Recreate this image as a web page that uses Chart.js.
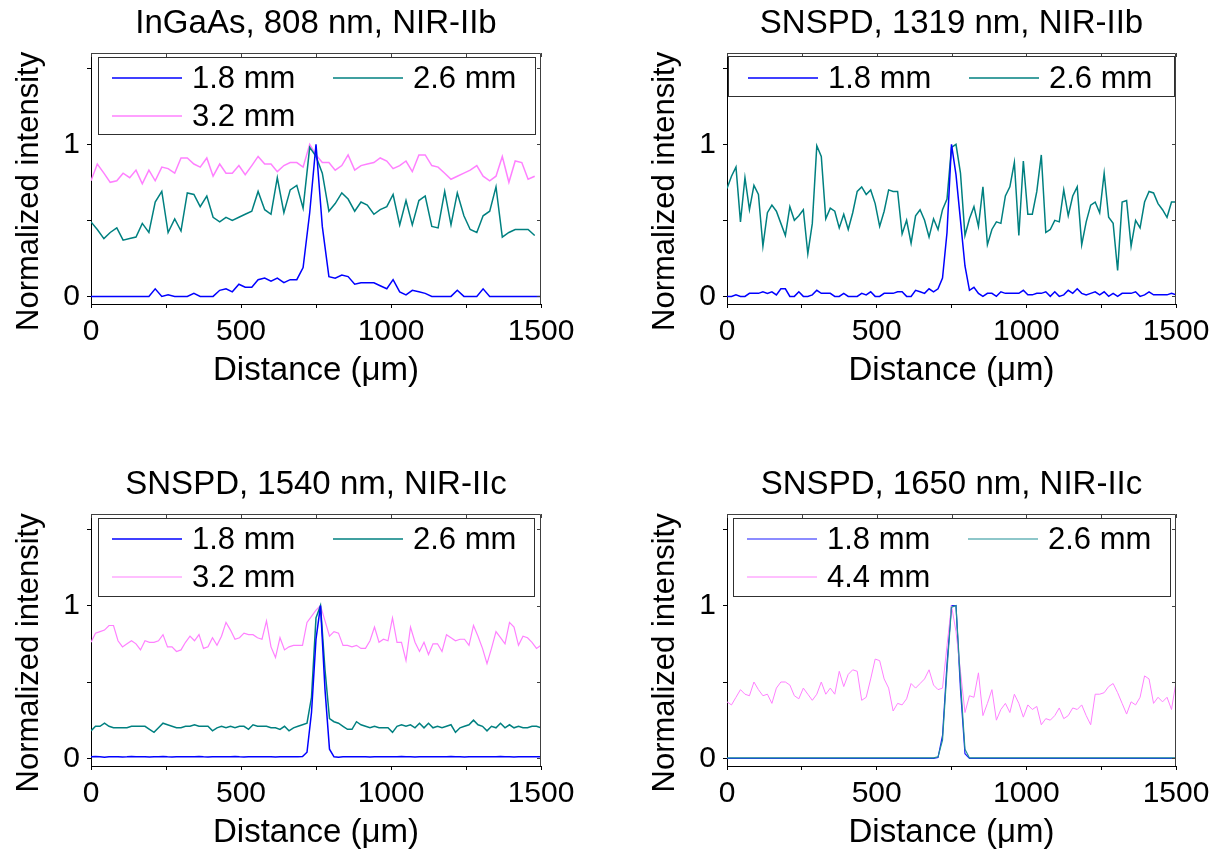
<!DOCTYPE html>
<html lang="en">
  <head>
    <meta charset="utf-8" />
    <title>Line profiles</title>
    <script src="https://cdn.jsdelivr.net/npm/chart.js"></script>
    <style>
      body { margin: 0; background: #fff; overflow: hidden; }
      .panel { position: absolute; }
    </style>
  </head>
  <body>
    <canvas id="c1" class="panel" width="612" height="394" style="left:0;top:0"></canvas>
    <canvas id="c2" class="panel" width="612" height="394" style="left:636px;top:0"></canvas>
    <canvas id="c3" class="panel" width="612" height="395" style="left:0;top:461px"></canvas>
    <canvas id="c4" class="panel" width="612" height="395" style="left:636px;top:461px"></canvas>

    <script>
      // axes
      var yTickValues = [0, 0.5, 1, 1.5];
      var yTickLabels = [0, 1];
      var xTickValues = [0, 250, 500, 750, 1000, 1250, 1500];
      var xTickLabels = [0, 500, 1000, 1500];

      var titles = [
        "InGaAs, 808 nm, NIR-IIb",
        "SNSPD, 1319 nm, NIR-IIb",
        "SNSPD, 1540 nm, NIR-IIc",
        "SNSPD, 1650 nm, NIR-IIc",
      ];

      // InGaAs profile positions (um)
      var xInGaAs = [0, 21, 43, 64, 86, 107, 129, 150, 171, 193,
        214, 236, 257, 279, 300, 321, 343, 364, 386, 407,
        429, 450, 471, 493, 514, 536, 557, 579, 600, 621,
        643, 664, 686, 707, 729, 750, 771, 793, 814, 836,
        857, 879, 900, 921, 943, 964, 986, 1007, 1029, 1050,
        1071, 1093, 1114, 1136, 1157, 1179, 1200, 1221, 1243, 1264,
        1286, 1307, 1329, 1350, 1371, 1393, 1414, 1436, 1457, 1479,
        1500];

      var ingaas18 = [0, 0, 0, 0, 0, 0, 0, 0, 0, 0,
        0.05, 0, 0.01, 0, 0, 0, 0.02, 0, 0, 0,
        0.04, 0.05, 0.03, 0.08, 0.06, 0.06, 0.11, 0.12, 0.10, 0.12,
        0.09, 0.11, 0.11, 0.19, 0.55, 1.00, 0.46, 0.13, 0.12, 0.14,
        0.13, 0.08, 0.09, 0.09, 0.09, 0.07, 0.05, 0.11, 0.03, 0.01,
        0.04, 0.03, 0.02, 0, 0, 0, 0, 0.04, 0, 0,
        0, 0.05, 0, 0, 0, 0, 0, 0, 0, 0,
        0];
      var ingaas26 = [0.49, 0.44, 0.38, 0.42, 0.45, 0.37, 0.38, 0.39, 0.48, 0.42,
        0.62, 0.69, 0.42, 0.51, 0.43, 0.68, 0.67, 0.59, 0.66, 0.52,
        0.49, 0.52, 0.50, 0.52, 0.54, 0.56, 0.69, 0.57, 0.54, 0.78,
        0.55, 0.70, 0.73, 0.58, 0.98, 0.92, 0.81, 0.56, 0.61, 0.68,
        0.64, 0.56, 0.62, 0.60, 0.54, 0.57, 0.59, 0.67, 0.47, 0.63,
        0.47, 0.63, 0.66, 0.46, 0.45, 0.69, 0.47, 0.68, 0.53, 0.44,
        0.42, 0.53, 0.56, 0.72, 0.39, 0.42, 0.44, 0.44, 0.44, 0.40];
      var ingaas32 = [0.76, 0.87, 0.81, 0.75, 0.76, 0.81, 0.78, 0.83, 0.74, 0.83,
        0.76, 0.85, 0.84, 0.81, 0.91, 0.91, 0.87, 0.85, 0.91, 0.79,
        0.87, 0.81, 0.81, 0.86, 0.80, 0.86, 0.92, 0.87, 0.87, 0.82,
        0.86, 0.88, 0.88, 0.85, 1.00, 0.93, 0.88, 0.88, 0.83, 0.86,
        0.93, 0.83, 0.86, 0.87, 0.88, 0.91, 0.89, 0.84, 0.86, 0.89,
        0.82, 0.93, 0.93, 0.86, 0.85, 0.81, 0.77, 0.79, 0.81, 0.83,
        0.86, 0.79, 0.76, 0.79, 0.92, 0.75, 0.89, 0.88, 0.77, 0.79];

      // SNSPD profile positions (um)
      var xSnspd = [0, 15, 30, 45, 60, 75, 90, 105, 120, 135,
        150, 165, 180, 195, 210, 225, 240, 255, 270, 285,
        300, 315, 330, 345, 360, 375, 390, 405, 420, 435,
        450, 465, 480, 495, 510, 525, 540, 555, 570, 585,
        600, 615, 630, 645, 660, 675, 690, 705, 720, 735,
        750, 765, 780, 795, 810, 825, 840, 855, 870, 885,
        900, 915, 930, 945, 960, 975, 990, 1005, 1020, 1035,
        1050, 1065, 1080, 1095, 1110, 1125, 1140, 1155, 1170, 1185,
        1200, 1215, 1230, 1245, 1260, 1275, 1290, 1305, 1320, 1335,
        1350, 1365, 1380, 1395, 1410, 1425, 1440, 1455, 1470, 1485,
        1500];

      var s1319_18 = [0.00, 0.00, 0.01, 0.00, 0.00, 0.02, 0.02, 0.02, 0.03, 0.02,
        0.03, 0.01, 0.05, 0.05, 0.00, 0.00, 0.03, 0.00, 0.00, 0.01,
        0.04, 0.02, 0.02, 0.02, 0.00, 0.00, 0.02, 0.00, 0.00, 0.00,
        0.02, 0.01, 0.03, 0.00, 0.00, 0.02, 0.02, 0.02, 0.03, 0.03,
        0.00, 0.00, 0.04, 0.03, 0.02, 0.05, 0.03, 0.05, 0.12, 0.42,
        1.00, 0.80, 0.50, 0.20, 0.04, 0.06, 0.02, 0.00, 0.02, 0.02,
        0.00, 0.03, 0.02, 0.02, 0.02, 0.02, 0.04, 0.01, 0.01, 0.02,
        0.02, 0.03, 0.00, 0.03, 0.00, 0.01, 0.04, 0.02, 0.05, 0.02,
        0.01, 0.02, 0.03, 0.01, 0.03, 0.00, 0.02, 0.00, 0.02, 0.02,
        0.02, 0.03, 0.00, 0.01, 0.03, 0.01, 0.01, 0.01, 0.01, 0.02,
        0.01];
      var s1319_26 = [0.71, 0.79, 0.85, 0.49, 0.78, 0.57, 0.73, 0.67, 0.33, 0.55,
        0.60, 0.56, 0.48, 0.40, 0.59, 0.50, 0.53, 0.57, 0.28, 0.48,
        0.99, 0.92, 0.51, 0.58, 0.56, 0.45, 0.54, 0.44, 0.55, 0.69,
        0.72, 0.67, 0.70, 0.61, 0.46, 0.56, 0.70, 0.69, 0.69, 0.41,
        0.50, 0.35, 0.53, 0.57, 0.50, 0.39, 0.51, 0.44, 0.57, 0.64,
        0.98, 1.00, 0.81, 0.40, 0.51, 0.59, 0.46, 0.72, 0.34, 0.44,
        0.49, 0.48, 0.66, 0.72, 0.88, 0.40, 0.89, 0.54, 0.54, 0.69,
        0.93, 0.42, 0.44, 0.50, 0.49, 0.70, 0.53, 0.66, 0.72, 0.34,
        0.49, 0.60, 0.62, 0.55, 0.81, 0.52, 0.48, 0.17, 0.62, 0.63,
        0.33, 0.50, 0.45, 0.62, 0.69, 0.68, 0.61, 0.57, 0.52, 0.62,
        0.62];

      var s1540_18 = [0.010, 0.012, 0.010, 0.008, 0.010, 0.011, 0.010, 0.009, 0.010, 0.012,
        0.010, 0.010, 0.011, 0.009, 0.010, 0.010, 0.012, 0.010, 0.009, 0.010,
        0.010, 0.011, 0.010, 0.010, 0.012, 0.010, 0.009, 0.010, 0.010, 0.011,
        0.010, 0.010, 0.012, 0.010, 0.009, 0.010, 0.010, 0.010, 0.011, 0.010,
        0.010, 0.009, 0.010, 0.010, 0.010, 0.011, 0.010, 0.012, 0.04, 0.30,
        0.78, 1.00, 0.45, 0.06, 0.010, 0.008, 0.010, 0.010, 0.011, 0.010,
        0.010, 0.010, 0.009, 0.010, 0.010, 0.011, 0.010, 0.010, 0.010, 0.012,
        0.010, 0.010, 0.009, 0.010, 0.010, 0.011, 0.010, 0.010, 0.010, 0.010,
        0.012, 0.010, 0.010, 0.009, 0.010, 0.010, 0.011, 0.010, 0.010, 0.010,
        0.010, 0.012, 0.010, 0.010, 0.009, 0.010, 0.010, 0.011, 0.010, 0.010,
        0.010];
      var s1540_26 = [0.18, 0.21, 0.21, 0.23, 0.21, 0.20, 0.20, 0.20, 0.20, 0.21,
        0.21, 0.21, 0.21, 0.19, 0.17, 0.20, 0.23, 0.22, 0.21, 0.20,
        0.20, 0.21, 0.21, 0.22, 0.21, 0.21, 0.21, 0.18, 0.20, 0.21,
        0.20, 0.21, 0.20, 0.21, 0.21, 0.19, 0.22, 0.21, 0.21, 0.21,
        0.20, 0.20, 0.19, 0.21, 0.18, 0.20, 0.21, 0.22, 0.23, 0.40,
        0.92, 1.00, 0.58, 0.26, 0.24, 0.23, 0.21, 0.19, 0.19, 0.24,
        0.22, 0.21, 0.20, 0.21, 0.20, 0.20, 0.20, 0.17, 0.21, 0.22,
        0.21, 0.22, 0.20, 0.23, 0.20, 0.23, 0.20, 0.21, 0.20, 0.21,
        0.22, 0.17, 0.20, 0.21, 0.22, 0.25, 0.22, 0.21, 0.18, 0.21,
        0.20, 0.23, 0.20, 0.22, 0.20, 0.21, 0.20, 0.20, 0.21, 0.21,
        0.20];
      var s1540_32 = [0.76, 0.82, 0.83, 0.84, 0.87, 0.87, 0.77, 0.73, 0.75, 0.77,
        0.75, 0.71, 0.77, 0.76, 0.76, 0.77, 0.81, 0.73, 0.73, 0.70,
        0.71, 0.76, 0.80, 0.77, 0.81, 0.72, 0.73, 0.79, 0.74, 0.80,
        0.89, 0.84, 0.78, 0.79, 0.82, 0.81, 0.81, 0.79, 0.78, 0.90,
        0.73, 0.66, 0.79, 0.71, 0.73, 0.74, 0.74, 0.74, 0.89, 0.93,
        0.97, 1.00, 0.90, 0.80, 0.83, 0.82, 0.74, 0.74, 0.73, 0.74,
        0.72, 0.72, 0.77, 0.86, 0.76, 0.78, 0.77, 0.92, 0.76, 0.76,
        0.64, 0.86, 0.76, 0.70, 0.76, 0.68, 0.75, 0.75, 0.70, 0.81,
        0.79, 0.77, 0.78, 0.78, 0.74, 0.87, 0.80, 0.72, 0.62, 0.72,
        0.83, 0.79, 0.75, 0.89, 0.86, 0.74, 0.80, 0.79, 0.76, 0.72,
        0.74];

      var s1650_18 = [0, 0, 0, 0, 0, 0, 0, 0, 0, 0,
        0, 0, 0, 0, 0, 0, 0, 0, 0, 0,
        0, 0, 0, 0, 0, 0, 0, 0, 0, 0,
        0, 0, 0, 0, 0, 0, 0, 0, 0, 0,
        0, 0, 0, 0, 0, 0, 0, 0.005, 0.15, 0.62,
        1.00, 1.00, 0.45, 0.03, 0, 0, 0, 0, 0, 0,
        0, 0, 0, 0, 0, 0, 0, 0, 0, 0,
        0, 0, 0, 0, 0, 0, 0, 0, 0, 0,
        0, 0, 0, 0, 0, 0, 0, 0, 0, 0,
        0, 0, 0, 0, 0, 0, 0, 0, 0, 0,
        0];
      var s1650_26 = [0.003, 0.003, 0.003, 0.003, 0.003, 0.003, 0.003, 0.003, 0.003, 0.003,
        0.003, 0.003, 0.003, 0.003, 0.003, 0.003, 0.003, 0.003, 0.003, 0.003,
        0.003, 0.003, 0.003, 0.003, 0.003, 0.003, 0.003, 0.003, 0.003, 0.003,
        0.003, 0.003, 0.003, 0.003, 0.003, 0.003, 0.003, 0.003, 0.003, 0.003,
        0.003, 0.003, 0.003, 0.003, 0.003, 0.003, 0.003, 0.01, 0.12, 0.58,
        0.99, 1.00, 0.50, 0.06, 0.003, 0.003, 0.003, 0.003, 0.003, 0.003,
        0.003, 0.003, 0.003, 0.003, 0.003, 0.003, 0.003, 0.003, 0.003, 0.003,
        0.003, 0.003, 0.003, 0.003, 0.003, 0.003, 0.003, 0.003, 0.003, 0.003,
        0.003, 0.003, 0.003, 0.003, 0.003, 0.003, 0.003, 0.003, 0.003, 0.003,
        0.003, 0.003, 0.003, 0.003, 0.003, 0.003, 0.003, 0.003, 0.003, 0.003,
        0.003];
      var s1650_44 = [0.37, 0.35, 0.40, 0.45, 0.42, 0.41, 0.50, 0.45, 0.41, 0.42,
        0.36, 0.46, 0.50, 0.50, 0.48, 0.41, 0.39, 0.46, 0.42, 0.38,
        0.42, 0.50, 0.42, 0.46, 0.42, 0.57, 0.47, 0.55, 0.58, 0.57,
        0.38, 0.40, 0.52, 0.65, 0.64, 0.52, 0.46, 0.31, 0.36, 0.35,
        0.39, 0.49, 0.46, 0.49, 0.52, 0.58, 0.48, 0.45, 0.46, 0.74,
        1.00, 0.83, 0.57, 0.30, 0.41, 0.40, 0.56, 0.28, 0.36, 0.45,
        0.25, 0.32, 0.36, 0.30, 0.42, 0.36, 0.27, 0.35, 0.32, 0.34,
        0.22, 0.26, 0.25, 0.28, 0.33, 0.26, 0.28, 0.33, 0.32, 0.35,
        0.28, 0.22, 0.42, 0.42, 0.43, 0.47, 0.49, 0.43, 0.36, 0.29,
        0.37, 0.35, 0.40, 0.54, 0.52, 0.36, 0.40, 0.37, 0.40, 0.32,
        0.50];

      var FONT = "'Liberation Sans', Arial, Helvetica, sans-serif";
      Chart.defaults.font.family = FONT;
      Chart.defaults.color = "#000";

      let toPoints = (xs, ys) => ys.map((y, i) => ({ x: xs[i], y: y }));

      // top/right frame with inward ticks
      const framePlugin = {
        id: "frame",
        afterDatasetsDraw(chart) {
          const { ctx, chartArea: a, scales } = chart;
          ctx.save();
          ctx.strokeStyle = "#404040";
          ctx.lineWidth = 1;
          ctx.beginPath();
          ctx.moveTo(a.left, a.top + 0.5);
          ctx.lineTo(a.right - 0.5, a.top + 0.5);
          ctx.lineTo(a.right - 0.5, a.bottom);
          xTickValues.forEach((v) => {
            let px = Math.round(scales.x.getPixelForValue(v)) + 0.5;
            ctx.moveTo(px, a.top);
            ctx.lineTo(px, a.top + 4);
          });
          yTickValues.forEach((v) => {
            let py = Math.round(scales.y.getPixelForValue(v)) + 0.5;
            ctx.moveTo(a.right, py);
            ctx.lineTo(a.right - 4, py);
          });
          ctx.stroke();
          ctx.restore();
        },
      };

      // boxed legend inside the plot, two entries per row
      const boxLegend = {
        id: "boxLegend",
        afterDatasetsDraw(chart, args, opts) {
          const { ctx, chartArea: a } = chart;
          const b = opts.box;
          let left = a.left + b[0];
          let top = a.top + b[1];
          let w = a.right - b[2] - left;
          let h = b[3] - b[1];
          ctx.save();
          ctx.fillStyle = "#fff";
          ctx.fillRect(left, top, w, h);
          ctx.strokeStyle = "#303030";
          ctx.lineWidth = 1;
          ctx.strokeRect(Math.round(left) + 0.5, Math.round(top) + 0.5, Math.round(w), Math.round(h));
          ctx.font = "31px " + FONT;
          ctx.textBaseline = "middle";
          chart.data.datasets.forEach((ds, i) => {
            let x0 = a.left + opts.start + (i % 2) * 221;
            let y = a.top + 25 + Math.floor(i / 2) * 38;
            ctx.strokeStyle = ds.borderColor;
            ctx.lineWidth = ds.borderWidth;
            ctx.beginPath();
            ctx.moveTo(x0, y);
            ctx.lineTo(x0 + 70, y);
            ctx.stroke();
            ctx.fillStyle = "#000";
            ctx.fillText(ds.label, x0 + 80, y + 1);
          });
          ctx.restore();
        },
      };

      let axisCommon = {
        grid: { display: true, drawOnChartArea: false, drawTicks: true, tickLength: 4, color: "#000", lineWidth: 1 },
        border: { display: true, color: "#000", width: 1 },
      };

      let makePanel = (id, title, xs, series, padRight, legendOpts) => {
        return new Chart(document.getElementById(id), {
          type: "line",
          data: {
            datasets: series.map((s) => ({
              label: s.label,
              data: toPoints(xs, s.data),
              borderColor: s.color,
              borderWidth: s.width,
              order: s.order || 0,
              pointRadius: 0,
              tension: 0,
              fill: false,
            })),
          },
          options: {
            responsive: false,
            animation: false,
            events: [],
            layout: { padding: { left: 0, right: padRight, top: 0, bottom: 0 } },
            plugins: {
              legend: { display: false },
              tooltip: { enabled: false },
              title: {
                display: true,
                text: title,
                fullSize: false,
                color: "#000",
                font: { size: 33, weight: "normal" },
                padding: { top: 4, bottom: 9.4 },
              },
              boxLegend: legendOpts,
            },
            scales: {
              x: {
                type: "linear",
                min: 0,
                max: 1500,
                afterFit: (s) => { s.height = 90; },
                afterBuildTicks: (s) => { s.ticks = xTickValues.map((v) => ({ value: v })); },
                ticks: {
                  autoSkip: false,
                  maxRotation: 0,
                  padding: 6,
                  color: "#000",
                  font: { size: 30 },
                  callback: (v) => (xTickLabels.includes(v) ? String(v) : ""),
                },
                grid: axisCommon.grid,
                border: axisCommon.border,
                title: { display: true, text: "Distance (\u03bcm)", color: "#000", font: { size: 33 }, padding: { top: 0, bottom: 3 } },
              },
              y: {
                type: "linear",
                min: -0.05,
                max: 1.6,
                afterFit: (s) => { s.width = 91; },
                afterBuildTicks: (s) => { s.ticks = yTickValues.map((v) => ({ value: v })); },
                ticks: {
                  padding: 7,
                  color: "#000",
                  font: { size: 30 },
                  callback: (v) => (yTickLabels.includes(v) ? String(v) : ""),
                },
                grid: axisCommon.grid,
                border: axisCommon.border,
                title: { display: true, text: "Normalized intensity   ", color: "#000", font: { size: 31 }, padding: { top: 11, bottom: 0 } },
              },
            },
          },
          plugins: [framePlugin, boxLegend],
        });
      };

      makePanel("c1", titles[0], xInGaAs, [
        { label: "1.8 mm", data: ingaas18, color: "#0000ff", width: 1.5 },
        { label: "2.6 mm", data: ingaas26, color: "#008080", width: 1.5 },
        { label: "3.2 mm", data: ingaas32, color: "#ff80ff", width: 1.5 },
      ], 71, { box: [7, 4, 6, 81], start: 21 });

      makePanel("c2", titles[1], xSnspd, [
        { label: "1.8 mm", data: s1319_18, color: "#0000ff", width: 1.5 },
        { label: "2.6 mm", data: s1319_26, color: "#008080", width: 1.5 },
      ], 72, { box: [1, 3, 2, 43], start: 21 });

      makePanel("c3", titles[2], xSnspd, [
        { label: "1.8 mm", data: s1540_18, color: "#0000ff", width: 1.5 },
        { label: "2.6 mm", data: s1540_26, color: "#008080", width: 1.5 },
        { label: "3.2 mm", data: s1540_32, color: "#ff80ff", width: 1.2 },
      ], 71, { box: [7, 4, 7, 82], start: 21 });

      makePanel("c4", titles[3], xSnspd, [
        { label: "1.8 mm", data: s1650_18, color: "#1a1aff", width: 1.2, order: 1 },
        { label: "2.6 mm", data: s1650_26, color: "#1f8f96", width: 1.2 },
        { label: "4.4 mm", data: s1650_44, color: "#ff80ff", width: 1 },
      ], 72, { box: [6, 4, 6, 82], start: 20 });
    </script>
  </body>
</html>
